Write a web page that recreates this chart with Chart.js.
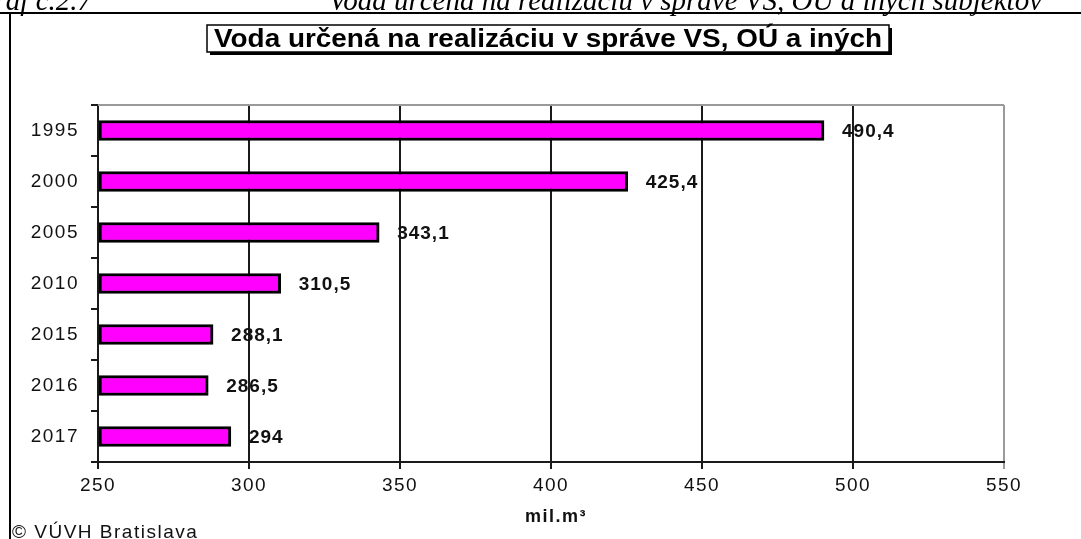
<!DOCTYPE html>
<html>
<head>
<meta charset="utf-8">
<script src="https://cdn.jsdelivr.net/npm/chart.js@4/dist/chart.umd.min.js"></script>
<style>
  html, body { margin: 0; padding: 0; background: #fff; }
  #wrap { width: 1081px; height: 539px; position: relative; overflow: hidden; }
</style>
</head>
<body>
<div id="wrap"><canvas id="chart" width="1081" height="539"></canvas></div>
<script>
"use strict"

// years and water volume (mil. m3)
const years = ['1995', '2000', '2005', '2010', '2015', '2016', '2017'];
const volumes = [490.4, 425.4, 343.1, 310.5, 288.1, 286.5, 294];
const valueLabels = ['490,4', '425,4', '343,1', '310,5', '288,1', '286,5', '294'];
const xTicks = [250, 300, 350, 400, 450, 500, 550];

const chartTitle = 'Voda určená na realizáciu v správe VS, OÚ a iných';
const pageCaption = 'Voda určená na realizáciu v správe VS, OÚ a iných subjektov';
const pageLabel = 'Graf č.2.7';
const axisUnit = 'mil.m³';
const sourceNote = '© VÚVH Bratislava';

//////////    plugins    ///////////////

const spacingPlugin = {
  id: 'spacing',
  beforeDraw(chart) {
    chart.ctx.letterSpacing = '1.5px';
  },
  afterDatasetsDraw(chart) {
    const ctx = chart.ctx;
    const meta = chart.getDatasetMeta(0);
    ctx.save();
    ctx.letterSpacing = '1px';
    ctx.font = 'bold 19px Arial, "Liberation Sans", sans-serif';
    ctx.fillStyle = '#111';
    ctx.textAlign = 'left';
    ctx.textBaseline = 'middle';
    meta.data.forEach((bar, i) => {
      ctx.fillText(valueLabels[i], bar.x + 18, bar.y + 1);
    });
    ctx.restore();
  },
  afterDraw(chart) {
    const ctx = chart.ctx;
    const area = chart.chartArea;
    ctx.save();

    // grey top border of plot
    ctx.strokeStyle = '#9a9a9a';
    ctx.lineWidth = 2;
    ctx.beginPath();
    ctx.moveTo(area.left, area.top);
    ctx.lineTo(area.right, area.top);
    ctx.stroke();

    // caption above the frame (cut off at the top)
    ctx.letterSpacing = '0px';
    ctx.fillStyle = '#000';
    ctx.font = 'italic 29px "Liberation Serif", "Times New Roman", serif';
    ctx.textBaseline = 'alphabetic';
    ctx.textAlign = 'right';
    ctx.fillText(pageLabel, 92, 10);
    ctx.fillText(pageCaption, 1042, 10);

    // outer frame
    ctx.strokeStyle = '#000';
    ctx.lineWidth = 2;
    ctx.beginPath();
    ctx.moveTo(0, 13);
    ctx.lineTo(1081, 13);
    ctx.moveTo(10, 13);
    ctx.lineTo(10, 539);
    ctx.stroke();

    // title box with shadow
    const bx = 207, by = 25, bw = 682, bh = 27;
    ctx.fillStyle = '#000';
    ctx.fillRect(bx + 3, by + 3, bw, bh);
    ctx.fillStyle = '#fff';
    ctx.fillRect(bx, by, bw, bh);
    ctx.strokeStyle = '#000';
    ctx.lineWidth = 1.5;
    ctx.strokeRect(bx, by, bw, bh);
    ctx.font = 'bold 26px Arial, "Liberation Sans", sans-serif';
    ctx.fillStyle = '#000';
    ctx.textAlign = 'center';
    ctx.textBaseline = 'middle';
    const tw = ctx.measureText(chartTitle).width;
    const sx = 668 / tw;
    ctx.save();
    ctx.translate(bx + bw / 2, by + bh / 2 + 1);
    ctx.scale(sx, 1);
    ctx.fillText(chartTitle, 0, 0);
    ctx.restore();

    // axis unit
    ctx.letterSpacing = '1.5px';
    ctx.font = 'bold 18px Arial, "Liberation Sans", sans-serif';
    ctx.textAlign = 'center';
    ctx.textBaseline = 'alphabetic';
    ctx.fillStyle = '#111';
    ctx.fillText(axisUnit, 556, 522);

    // source note
    ctx.font = '19px Arial, "Liberation Sans", sans-serif';
    ctx.letterSpacing = '1.5px';
    ctx.textAlign = 'left';
    ctx.fillText(sourceNote, 12, 538);
    ctx.restore();
    ctx.letterSpacing = '0px';
  }
};

///////////   chart    //////////////////////

new Chart('chart', {
  type: 'bar',
  data: {
    labels: years,
    datasets: [{
      data: volumes,
      base: xTicks[0],
      backgroundColor: '#ff00ff',
      borderColor: '#000',
      borderWidth: 3,
      borderSkipped: false,
      barThickness: 20
    }]
  },
  options: {
    indexAxis: 'y',
    responsive: false,
    animation: false,
    events: [],
    layout: { padding: { left: 20, top: 105, right: 77, bottom: 0 } },
    plugins: {
      legend: { display: false },
      tooltip: { enabled: false }
    },
    scales: {
      x: {
        min: xTicks[0],
        max: xTicks[xTicks.length - 1],
        afterFit: (scale) => { scale.height = 77; },
        afterBuildTicks: (scale) => { scale.ticks = xTicks.map(v => ({ value: v })); },
        grid: {
          color: (c) => c.tick && c.tick.value === 550 ? '#9a9a9a' : '#1a1a1a',
          lineWidth: 2,
          tickLength: 7
        },
        border: { color: '#1a1a1a', width: 2 },
        ticks: {
          color: '#111',
          padding: 5,
          font: { family: 'Arial, "Liberation Sans", sans-serif', size: 19 }
        }
      },
      y: {
        afterFit: (scale) => { scale.width = 78; },
        grid: {
          drawOnChartArea: false,
          color: '#1a1a1a',
          lineWidth: 2,
          tickLength: 7
        },
        border: { color: '#1a1a1a', width: 2 },
        ticks: {
          color: '#111',
          padding: 12,
          font: { family: 'Arial, "Liberation Sans", sans-serif', size: 19 }
        }
      }
    }
  },
  plugins: [spacingPlugin]
});
</script>
</body>
</html>
